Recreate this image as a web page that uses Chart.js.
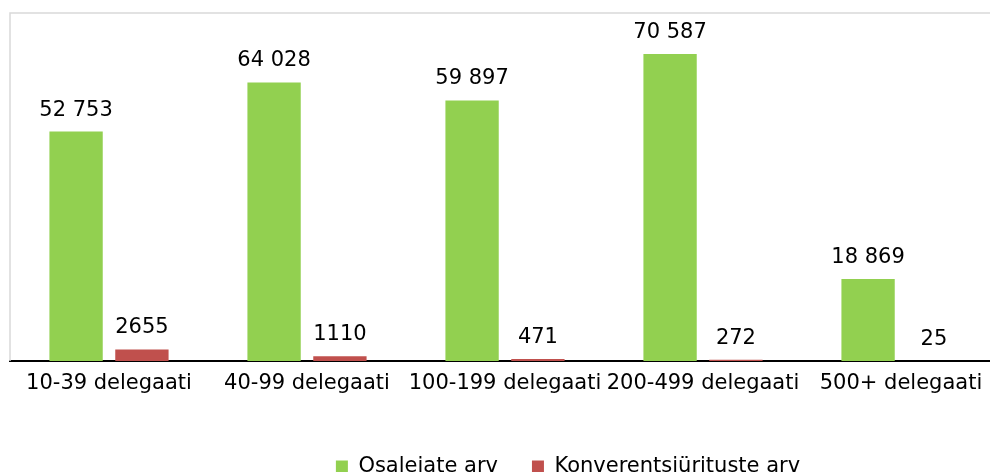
<!DOCTYPE html>
<html>
<head>
<meta charset="utf-8">
<script src="https://cdn.jsdelivr.net/npm/chart.js@4/dist/chart.umd.min.js"></script>
<style>
  html, body { margin: 0; padding: 0; background: #fff; overflow: hidden; }
  #wrap { position: absolute; left: 0; top: 0; width: 1136px; height: 487px; }
</style>
</head>
<body>
<div id="wrap"><canvas id="chart"></canvas></div>
<script>
const categories = ['10-39 delegaati', '40-99 delegaati', '100-199 delegaati', '200-499 delegaati', '500+ delegaati'];
const participants = [52753, 64028, 59897, 70587, 18869];   // Osalejate arv
const events = [2655, 1110, 471, 272, 25];                  // Konverentsiürituste arv
const yMax = 80000;

const FONT = 'Verdana, "DejaVu Sans", sans-serif';

// green values use a space as thousands separator, red ones are printed plain
function fmtSpace(v) {
  return String(v).replace(/\B(?=(\d{3})+(?!\d))/g, ' ');
}

const valueLabels = {
  id: 'valueLabels',
  afterDatasetsDraw(chart) {
    const ctx = chart.ctx;
    ctx.save();
    ctx.font = '21px ' + FONT;
    ctx.fillStyle = '#000';
    ctx.textAlign = 'center';
    ctx.textBaseline = 'alphabetic';
    chart.data.datasets.forEach((ds, i) => {
      chart.getDatasetMeta(i).data.forEach((bar, j) => {
        const v = ds.data[j];
        const txt = i === 0 ? fmtSpace(v) : String(v);
        ctx.fillText(txt, bar.x, bar.y - 16);
      });
    });
    ctx.restore();
  }
};

// light grey frame round the plot area
const plotFrame = {
  id: 'plotFrame',
  beforeDatasetsDraw(chart) {
    const a = chart.chartArea;
    const ctx = chart.ctx;
    ctx.save();
    ctx.strokeStyle = '#d9d9d9';
    ctx.lineWidth = 1.5;
    ctx.beginPath();
    ctx.moveTo(a.left, a.bottom);
    ctx.lineTo(a.left, a.top);
    ctx.lineTo(a.right, a.top);
    ctx.lineTo(a.right, a.bottom);
    ctx.stroke();
    ctx.restore();
  }
};

// empty side axes only used to reserve space so the legend stays centred on the full canvas
const spacer = (w) => ({
  display: true,
  grid: { display: false },
  border: { display: false },
  ticks: { display: false },
  afterFit(scale) { scale.width = w; }
});

new Chart(document.getElementById('chart'), {
  type: 'bar',
  data: {
    labels: categories,
    datasets: [
      {
        label: 'Osalejate arv',
        data: participants,
        backgroundColor: '#92D050',
        categoryPercentage: 0.665,
        barPercentage: 0.81
      },
      {
        label: 'Konverentsiürituste arv',
        data: events,
        backgroundColor: '#C0504D',
        categoryPercentage: 0.665,
        barPercentage: 0.81
      }
    ]
  },
  options: {
    responsive: true,
    maintainAspectRatio: false,
    animation: false,
    layout: { padding: { left: 0, top: 13, right: 0, bottom: 0 } },
    plugins: {
      tooltip: { enabled: false },
      legend: {
        position: 'bottom',
        labels: {
          font: { family: FONT, size: 21 },
          color: '#000',
          boxWidth: 12,
          boxHeight: 12,
          padding: 34
        }
      }
    },
    scales: {
      x: {
        grid: { display: false, drawTicks: false },
        border: { display: true, color: '#000', width: 2 },
        ticks: {
          font: { family: FONT, size: 21 },
          color: '#000',
          padding: 10,
          maxRotation: 0,
          autoSkip: false
        },
        afterFit(scale) { scale.height = 61; }
      },
      y: Object.assign(spacer(10), { position: 'left', min: 0, max: yMax }),
      yRight: Object.assign(spacer(136), { position: 'right', min: 0, max: 1 })
    }
  },
  plugins: [plotFrame, valueLabels]
});
</script>
</body>
</html>
